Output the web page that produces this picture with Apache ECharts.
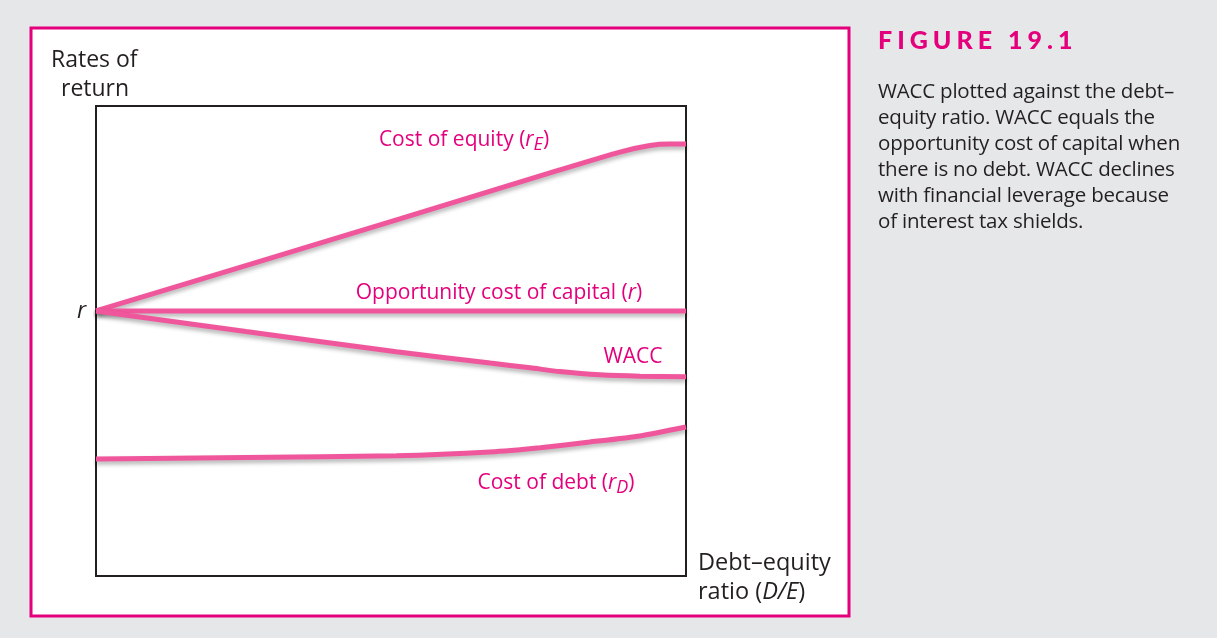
<!DOCTYPE html>
<html>
<head>
<meta charset="utf-8">
<script src="https://cdn.jsdelivr.net/npm/echarts@6/dist/echarts.min.js"></script>
<style>
  html, body { margin: 0; padding: 0; background: #e6e7e8; }
  #chart { position: absolute; left: 0; top: 0; width: 1217px; height: 638px; }
  .caption { position: absolute; left: 878px; top: 23px; width: 339px; font-family: "Open Sans", sans-serif; color: #231f20; }
  .caption h1 { margin: 0; font-family: Lato, sans-serif; font-size: 25px; font-weight: 900; letter-spacing: 5px; color: #e4007c; line-height: 32px; }
  .caption p { margin: 22px 0 0 0; font-size: 20.5px; line-height: 26px; letter-spacing: -0.2px; white-space: nowrap; }
</style>
</head>
<body>
<div id="chart"></div>
<div class="caption">
  <h1>FIGURE 19.1</h1>
  <p>WACC plotted against the debt–<br>equity ratio. WACC equals the<br>opportunity cost of capital when<br>there is no debt. WACC declines<br>with financial leverage because<br>of interest tax shields.</p>
</div>
<script>
// x: debt-equity ratio (0-100 scale), y: rate of return (0-100 scale)
const costOfEquity = [[0, 56.4], [26.1, 66.3], [51.5, 76.0], [78.6, 86.4], [88.8, 90.2], [93.9, 91.6], [97.3, 91.9], [100, 91.9]];
const opportunityCost = [[0, 56.4], [100, 56.4]];
const wacc = [[0, 56.4], [25.4, 52.0], [50.9, 47.7], [66.8, 45.3], [73.6, 44.3], [78.6, 43.5], [85.4, 42.8], [92.2, 42.5], [100, 42.4]];
const costOfDebt = [[0, 24.9], [25.4, 25.2], [50.9, 25.6], [66.8, 26.4], [75.3, 27.3], [83.7, 28.5], [92.2, 29.8], [100, 31.7]];

const lineColor = '#f0569b';
const labelColor = '#e4007c';
const textColor = '#231f20';
const font = '"Open Sans", sans-serif';

const chart = echarts.init(document.getElementById('chart'));

function curve(name, data) {
  return {
    name: name,
    type: 'line',
    data: data,
    smooth: 0.2,
    symbol: 'none',
    lineStyle: {
      color: lineColor,
      width: 5,
      shadowColor: 'rgba(0,0,0,0.3)',
      shadowBlur: 4,
      shadowOffsetY: 3
    },
    silent: true
  };
}

function text(str, x, y, size, color, align) {
  return {
    type: 'text',
    z: 10,
    style: {
      text: str, x: x, y: y, fill: color,
      font: size + 'px ' + font,
      align: align || 'left',
      verticalAlign: 'middle',
      rich: {
        i: { fill: color, fontFamily: font, fontSize: size, fontStyle: 'italic' },
        sub: { fill: color, fontFamily: font, fontSize: size - 3, fontStyle: 'italic', padding: [10, 0, 0, 0] }
      }
    }
  };
}

chart.setOption({
  animation: false,
  grid: { left: 96, top: 106, width: 590, height: 470, show: true, borderColor: textColor, borderWidth: 2, backgroundColor: 'transparent' },
  xAxis: { type: 'value', min: 0, max: 100, axisLine: { show: false }, axisTick: { show: false }, axisLabel: { show: false }, splitLine: { show: false } },
  yAxis: { type: 'value', min: 0, max: 100, axisLine: { show: false }, axisTick: { show: false }, axisLabel: { show: false }, splitLine: { show: false } },
  graphic: [
    { type: 'rect', shape: { x: 31, y: 28, width: 818, height: 588 }, style: { fill: '#fff', stroke: '#e4007c', lineWidth: 3 }, z: -10 },
    text('Rates of', 51, 60, 23, textColor),
    text('return', 61, 89, 23, textColor),
    text('{i|r}', 77, 311, 23, textColor),
    text('Debt–equity', 698, 563, 23.5, textColor),
    text('ratio ({i|D/E})', 698, 592, 23.5, textColor),
    text('Cost of equity ({i|r}{sub|E})', 464, 140, 21, labelColor, 'center'),
    text('Opportunity cost of capital ({i|r})', 499, 293, 21, labelColor, 'center'),
    text('WACC', 633, 357, 21, labelColor, 'center'),
    text('Cost of debt ({i|r}{sub|D})', 556, 483, 21, labelColor, 'center')
  ],
  series: [
    curve('Cost of equity', costOfEquity),
    curve('Opportunity cost of capital', opportunityCost),
    curve('WACC', wacc),
    curve('Cost of debt', costOfDebt)
  ]
});
</script>
</body>
</html>
